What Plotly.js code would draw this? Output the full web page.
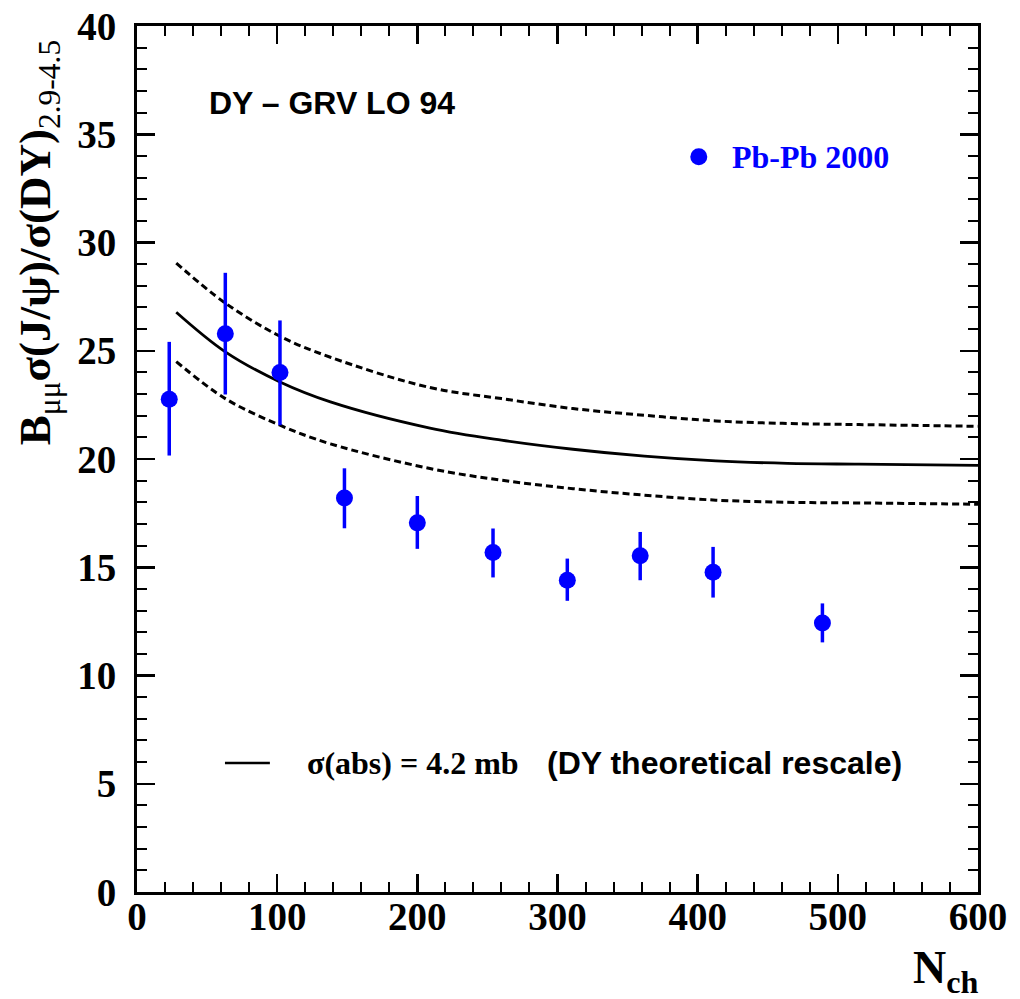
<!DOCTYPE html>
<html>
<head>
<meta charset="utf-8">
<script src="https://cdn.plot.ly/plotly-3.0.1.min.js"></script>
<style>html,body{margin:0;padding:0;background:#fff;}</style>
</head>
<body>
<div id="chart" style="width:1020px;height:999px;"></div>
<script>
// Data points: Pb-Pb 2000
const nch = [23, 63, 102, 148, 200, 254, 307, 359, 411, 489];
const ratio = [22.76, 25.78, 24.0, 18.2, 17.05, 15.68, 14.40, 15.53, 14.77, 12.43];
const errPlus = [2.65, 2.82, 2.4, 1.37, 1.24, 1.11, 1.0, 1.1, 1.17, 0.9];
const errMinus = [2.6, 2.8, 2.44, 1.4, 1.2, 1.15, 0.95, 1.13, 1.17, 0.9];

// Absorption curve sigma(abs)=4.2 mb and its band
const curveX = [28, 63, 102, 138, 209, 260, 311, 362, 413, 464, 515, 600];
const curveMid = [26.78, 24.95, 23.56, 22.64, 21.43, 20.87, 20.45, 20.13, 19.91, 19.80, 19.76, 19.71];
const curveUp = [29.05, 27.2, 25.67, 24.7, 23.30, 22.79, 22.33, 22.02, 21.76, 21.64, 21.59, 21.51];
const curveLow = [24.5, 22.79, 21.56, 20.7, 19.56, 19.02, 18.63, 18.33, 18.10, 18.0, 17.97, 17.91];

const serif = 'Liberation Serif, Times New Roman, serif';
const sans = 'Liberation Sans, Arial, sans-serif';

const traces = [
  {x: curveX, y: curveUp, mode: 'lines', line: {color: 'black', width: 3, dash: '7px,4px', shape: 'spline'}, showlegend: false, hoverinfo: 'skip'},
  {x: curveX, y: curveLow, mode: 'lines', line: {color: 'black', width: 3, dash: '7px,4px', shape: 'spline'}, showlegend: false, hoverinfo: 'skip'},
  {x: curveX, y: curveMid, mode: 'lines', line: {color: 'black', width: 2.8, shape: 'spline'}, showlegend: false},
  {x: nch, y: ratio, mode: 'markers', name: 'Pb-Pb 2000',
   marker: {color: '#0000ff', size: 17},
   error_y: {type: 'data', symmetric: false, array: errPlus, arrayminus: errMinus, color: '#0000ff', thickness: 3.5, width: 0},
   showlegend: false}
];

const axisCommon = {
  showline: true, linecolor: 'black', linewidth: 3, mirror: 'ticks',
  ticks: 'inside', ticklen: 18, tickwidth: 2.5, tickcolor: 'black',
  showgrid: false, zeroline: false,
  tickfont: {family: serif, size: 39, color: 'black', weight: 'bold'}
};

const layout = {
  width: 1020, height: 999,
  margin: {l: 137, r: 42, t: 26, b: 107},
  paper_bgcolor: 'white', plot_bgcolor: 'white',
  xaxis: Object.assign({}, axisCommon, {
    range: [0, 600], tick0: 0, dtick: 100,
    minor: {dtick: 20, ticks: 'inside', ticklen: 10, tickwidth: 2, tickcolor: 'black', showgrid: false},
    ticklabelstandoff: -12
  }),
  yaxis: Object.assign({}, axisCommon, {
    range: [0, 40], tick0: 0, dtick: 5,
    minor: {dtick: 1, ticks: 'inside', ticklen: 10, tickwidth: 2, tickcolor: 'black', showgrid: false},
    ticklabelstandoff: 10
  }),
  shapes: [
    {type: 'line', xref: 'paper', yref: 'paper', x0: 0.1046, x1: 0.158, y0: 0.149, y1: 0.149, line: {color: 'black', width: 2.5}},
    {type: 'circle', xref: 'paper', yref: 'paper', xsizemode: 'pixel', ysizemode: 'pixel',
     xanchor: 0.668, yanchor: 0.849, x0: -8.5, x1: 8.5, y0: -8.5, y1: 8.5,
     fillcolor: '#0000ff', line: {color: '#0000ff', width: 0}}
  ],
  annotations: [
    {text: '<b>B</b><sub>μμ</sub><b>σ(J/ψ)/σ(DY)</b><sub>2.9-4.5</sub>',
     xref: 'paper', yref: 'paper', x: -0.118, y: 0.75, xanchor: 'center', yanchor: 'middle',
     textangle: -90, showarrow: false, font: {family: serif, size: 45, color: 'black'}},
    {text: '<b>N<sub>ch</sub></b>', xref: 'paper', yref: 'paper', x: 1.003, y: -0.091,
     xanchor: 'right', yanchor: 'middle', showarrow: false, font: {family: serif, size: 46, color: 'black'}},
    {text: '<b>DY – GRV LO 94</b>', xref: 'paper', yref: 'paper', x: 0.232, y: 0.911,
     xanchor: 'center', yanchor: 'middle', showarrow: false, font: {family: sans, size: 32, color: 'black'}},
    {text: '<b>Pb-Pb 2000</b>', xref: 'paper', yref: 'paper', x: 0.705, y: 0.849,
     xanchor: 'left', yanchor: 'middle', showarrow: false, font: {family: serif, size: 32, color: '#0000ff'}},
    {text: '<b>σ(abs) = 4.2 mb</b>', xref: 'paper', yref: 'paper', x: 0.1998, y: 0.149,
     xanchor: 'left', yanchor: 'middle', showarrow: false, font: {family: serif, size: 32, color: 'black'}},
    {text: '<b>(DY theoretical rescale)</b>', xref: 'paper', yref: 'paper', x: 0.485, y: 0.149,
     xanchor: 'left', yanchor: 'middle', showarrow: false, font: {family: sans, size: 32, color: 'black'}}
  ]
};

Plotly.newPlot('chart', traces, layout, {displayModeBar: false, staticPlot: true});
</script>
</body>
</html>
